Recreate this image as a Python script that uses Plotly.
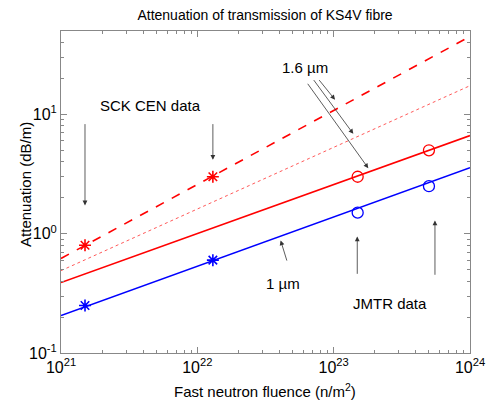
import plotly.graph_objects as go
import math

# ---- data ----
sck_x = [1.5e21, 1.3e22]
sck_16 = [0.8, 3.0]
sck_10 = [0.25, 0.6]
jmtr_x = [1.5e23, 5e23]
jmtr_16 = [3.0, 5.0]
jmtr_10 = [1.5, 2.5]

fit_x = [1e21, 1e24]
fit_16_dashed = [0.62, 45.0]
fit_16_dotted = [0.49, 17.4]
fit_16_solid = [0.39, 6.65]
fit_10_solid = [0.206, 3.57]

x_tickvals = [1e21, 1e22, 1e23, 1e24]
x_ticktext = ["10<sup>21</sup>", "10<sup>22</sup>", "10<sup>23</sup>", "10<sup>24</sup>"]
y_tickvals = [0.1, 1, 10]
y_ticktext = ["10<sup>-1</sup>", "10<sup>0</sup>", "10<sup>1</sup>"]
minor_digits = [2, 3, 4, 5, 6, 7, 8, 9]

RED = "#ff0000"
BLUE = "#0000ff"
FONT = "Liberation Sans, Arial, sans-serif"

x_minor = [d * 10.0 ** e for e in range(21, 24) for d in minor_digits]
y_minor = [d * 10.0 ** e for e in range(-1, 2) for d in minor_digits if d * 10.0 ** e <= 50]

fig = go.Figure()
fig.add_trace(go.Scatter(x=fit_x, y=fit_16_dashed, mode="lines",
                         line=dict(color=RED, width=1.6, dash="dash")))
fig.add_trace(go.Scatter(x=fit_x, y=fit_16_dotted, mode="lines",
                         line=dict(color="rgb(255,90,90)", width=1, dash="dot")))
fig.add_trace(go.Scatter(x=fit_x, y=fit_16_solid, mode="lines",
                         line=dict(color=RED, width=1.6)))
fig.add_trace(go.Scatter(x=fit_x, y=fit_10_solid, mode="lines",
                         line=dict(color=BLUE, width=1.6)))
fig.add_trace(go.Scatter(x=sck_x, y=sck_16, mode="markers",
                         marker=dict(symbol="asterisk-open", size=10, color=RED,
                                     line=dict(color=RED, width=1.6))))
fig.add_trace(go.Scatter(x=sck_x, y=sck_10, mode="markers",
                         marker=dict(symbol="asterisk-open", size=10, color=BLUE,
                                     line=dict(color=BLUE, width=1.6))))
fig.add_trace(go.Scatter(x=jmtr_x, y=jmtr_16, mode="markers",
                         marker=dict(symbol="circle-open", size=11, color=RED,
                                     line=dict(color=RED, width=1.3))))
fig.add_trace(go.Scatter(x=jmtr_x, y=jmtr_10, mode="markers",
                         marker=dict(symbol="circle-open", size=11, color=BLUE,
                                     line=dict(color=BLUE, width=1.3))))

# annotations (log10 coordinates)
texts = [
    ("SCK CEN data", 21.653, 1.074),
    ("1.6 µm", 22.79, 1.394),
    ("1 µm", 22.631, -0.418),
    ("JMTR data", 23.412, -0.581),
]
for t, xl, yl in texts:
    fig.add_annotation(x=xl, y=yl, xref="x", yref="y", text=t, showarrow=False,
                       font=dict(family=FONT, size=15, color="black"))

arrows = [
    # (tail_x, tail_y, head_x, head_y)
    (21.176, 0.931, 21.176, 0.237),
    (22.114, 0.931, 22.114, 0.619),
    (22.885, 1.30, 23.01, 1.123),
    (22.846, 1.30, 23.144, 0.837),
    (22.802, 1.269, 23.254, 0.549),
    (22.66, -0.238, 22.611, -0.056),
    (23.173, -0.349, 23.173, -0.0226),
    (23.743, -0.357, 23.743, 0.111),
]
for tx, ty, hx, hy in arrows:
    fig.add_annotation(x=hx, y=hy, ax=tx, ay=ty, xref="x", yref="y",
                       axref="x", ayref="y", text="", showarrow=True,
                       arrowhead=2, arrowsize=1.2, arrowwidth=0.8,
                       arrowcolor="#333333")

# axis titles as paper annotations
fig.add_annotation(x=0.499, y=-37 / 322, xref="paper", yref="paper",
                   text="Fast neutron fluence (n/m<sup>2</sup>)", showarrow=False,
                   xanchor="center", yanchor="middle",
                   font=dict(family=FONT, size=15, color="black"))
fig.add_annotation(x=-35 / 409, y=0.522, xref="paper", yref="paper",
                   text="Attenuation (dB/m)", showarrow=False, textangle=-90,
                   xanchor="center", yanchor="middle",
                   font=dict(family=FONT, size=15, color="black"))

axis_common = dict(
    type="log", showgrid=False, zeroline=False, automargin=False,
    showline=True, linecolor="#888888", linewidth=1, mirror="allticks",
    ticks="inside", ticklen=6, tickcolor="#888888", tickwidth=1,
    tickfont=dict(family=FONT, size=16, color="black"),
)

fig.update_xaxes(range=[21, 24], tickmode="array", tickvals=x_tickvals, ticktext=x_ticktext,
                 minor=dict(ticks="inside", ticklen=3, tickcolor="#888888", tickwidth=1,
                            tickmode="array", tickvals=x_minor, showgrid=False),
                 **axis_common)
fig.update_yaxes(range=[-1, math.log10(50)], tickmode="array", tickvals=y_tickvals, ticktext=y_ticktext,
                 minor=dict(ticks="inside", ticklen=3, tickcolor="#888888", tickwidth=1,
                            tickmode="array", tickvals=y_minor, showgrid=False),
                 **axis_common)

fig.update_layout(
    width=489, height=400,
    margin=dict(l=61, r=19, t=31, b=47),
    plot_bgcolor="white", paper_bgcolor="white",
    showlegend=False,
    title=dict(text="Attenuation of transmission of KS4V fibre", x=0.542, xanchor="center",
               y=0.962, yanchor="middle",
               font=dict(family=FONT, size=14, color="black")),
)

fig.write_html("out.html", config={"displayModeBar": False},
               post_script="document.body.style.margin='0';document.body.style.overflow='hidden';")
